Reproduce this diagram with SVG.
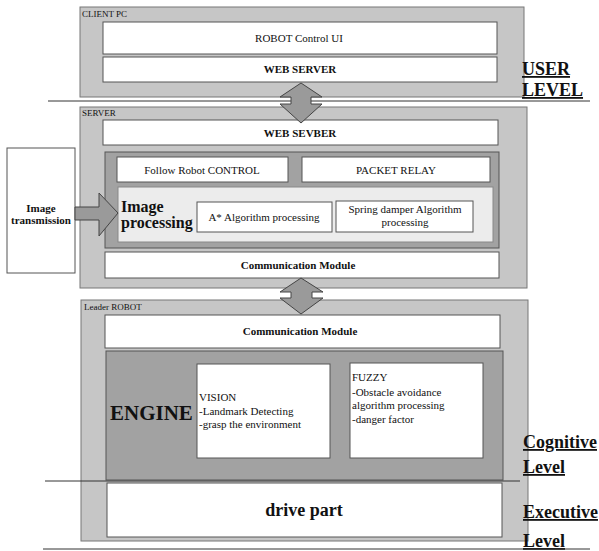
<svg xmlns="http://www.w3.org/2000/svg" width="599" height="551" viewBox="0 0 599 551" font-family="'Liberation Serif', 'DejaVu Serif', 'Times New Roman', Times, serif">
<style>
  text { font-family: 'Liberation Serif', 'DejaVu Serif', 'Times New Roman', Times, serif; fill: #111; }
  .outer { fill: #c6c6c6; stroke: #777; stroke-width: 1; }
  .dark { fill: #a2a2a2; stroke: #555; stroke-width: 1; }
  .light { fill: #ececec; stroke: #888; stroke-width: 1; }
  .white { fill: #ffffff; stroke: #555; stroke-width: 1; }
  .small { font-size: 9px; }
  .t11 { font-size: 11px; }
  .b11 { font-size: 11px; font-weight: bold; }
  .lvl { font-size: 18px; font-weight: bold; text-decoration: underline; }
  .arrow { fill: #9a9a9a; stroke: #444; stroke-width: 1; }
  .rule { stroke: #333; stroke-width: 1; fill: none; }
</style>

<g id="client-pc">
  <rect class="outer" x="80" y="7" width="444" height="90"/>
  <text class="small" x="82" y="17">CLIENT PC</text>
</g>
<g id="robot-control-ui">
  <rect class="white" x="103" y="22" width="394" height="32"/>
  <text class="t11" x="299" y="42" text-anchor="middle">ROBOT Control UI</text>
</g>
<g id="web-server-client">
  <rect class="white" x="103" y="57" width="394" height="25"/>
  <text class="b11" x="300" y="73" text-anchor="middle">WEB SERVER</text>
</g>
<g id="user-level">
  <text class="lvl" x="522" y="75">USER</text>
  <text class="lvl" x="522" y="96">LEVEL</text>
</g>

<g id="server">
  <rect class="outer" x="80" y="107" width="447" height="181"/>
  <text class="small" x="82" y="116">SERVER</text>
</g>
<g id="web-sevber">
  <rect class="white" x="103" y="120" width="395" height="25"/>
  <text class="b11" x="300" y="137" text-anchor="middle">WEB SEVBER</text>
</g>
<g id="server-inner">
  <rect class="dark" x="105" y="152" width="394" height="96"/>
</g>
<g id="follow-robot-control">
  <rect class="white" x="117" y="157" width="171" height="25"/>
  <text class="t11" x="202" y="174" text-anchor="middle">Follow Robot CONTROL</text>
</g>
<g id="packet-relay">
  <rect class="white" x="302" y="157" width="188" height="25"/>
  <text class="t11" x="396" y="174" text-anchor="middle">PACKET RELAY</text>
</g>
<g id="image-processing">
  <rect class="light" x="118" y="187" width="375" height="55"/>
  <text x="121" y="212" style="font-size:16px;font-weight:bold">Image</text>
  <text x="121" y="228" style="font-size:16px;font-weight:bold">processing</text>
</g>
<g id="a-star">
  <rect class="white" x="197" y="202" width="135" height="30"/>
  <text class="t11" x="264" y="221" text-anchor="middle">A* Algorithm processing</text>
</g>
<g id="spring-damper">
  <rect class="white" x="336" y="201" width="137" height="31"/>
  <text class="t11" x="405" y="213" text-anchor="middle">Spring damper Algorithm</text>
  <text class="t11" x="405" y="226" text-anchor="middle">processing</text>
</g>
<g id="communication-module-server">
  <rect class="white" x="105" y="252" width="394" height="26"/>
  <text class="b11" x="298" y="269" text-anchor="middle">Communication Module</text>
</g>

<g id="image-transmission">
  <rect class="white" x="7" y="148" width="68" height="125"/>
  <text class="b11" x="41" y="212" text-anchor="middle">Image</text>
  <text class="b11" x="41" y="224" text-anchor="middle">transmission</text>
</g>

<g id="leader-robot">
  <rect class="outer" x="81" y="300" width="447" height="241"/>
  <text class="small" x="84" y="310">Leader ROBOT</text>
</g>
<g id="communication-module-robot">
  <rect class="white" x="105" y="315" width="395" height="33"/>
  <text class="b11" x="300" y="335" text-anchor="middle">Communication Module</text>
</g>
<g id="engine">
  <rect class="dark" x="106" y="351" width="397" height="129"/>
  <text x="110" y="420" style="font-size:21px;font-weight:bold">ENGINE</text>
</g>
<g id="vision">
  <rect class="white" x="197" y="364" width="133" height="94"/>
  <text class="t11" x="199" y="401">VISION</text>
  <text class="t11" x="199" y="415">-Landmark Detecting</text>
  <text class="t11" x="199" y="428">-grasp the environment</text>
</g>
<g id="fuzzy">
  <rect class="white" x="350" y="363" width="133" height="95"/>
  <text class="t11" x="352" y="381">FUZZY</text>
  <text class="t11" x="352" y="396">-Obstacle avoidance</text>
  <text class="t11" x="352" y="409">algorithm processing</text>
  <text class="t11" x="352" y="423">-danger factor</text>
</g>
<g id="cognitive-level">
  <text class="lvl" x="523" y="448">Cognitive</text>
  <text class="lvl" x="523" y="473">Level</text>
</g>
<g id="drive-part">
  <rect class="white" x="107" y="483" width="395" height="54"/>
  <text x="304" y="516" text-anchor="middle" style="font-size:18px;font-weight:bold">drive part</text>
</g>
<g id="executive-level">
  <text class="lvl" x="523" y="518">Executive</text>
  <text class="lvl" x="523" y="547">Level</text>
</g>

<g id="connectors">
  <line class="rule" x1="48" y1="101" x2="590" y2="101"/>
  <line class="rule" x1="45" y1="481" x2="520" y2="481"/>
  <line class="rule" x1="43" y1="549" x2="590" y2="549" stroke="#666"/>
  <polygon class="arrow" points="301,83 322,97 311,97 311,104 322,104 301,123 280,104 291,104 291,97 280,97"/>
  <polygon class="arrow" points="301,278 323,292 312,292 312,298 323,298 301,314 280,298 291,298 291,292 280,292"/>
  <polygon class="arrow" points="75,207 99,207 99,193 118,213 99,236 99,220 75,220"/>
</g>
</svg>
